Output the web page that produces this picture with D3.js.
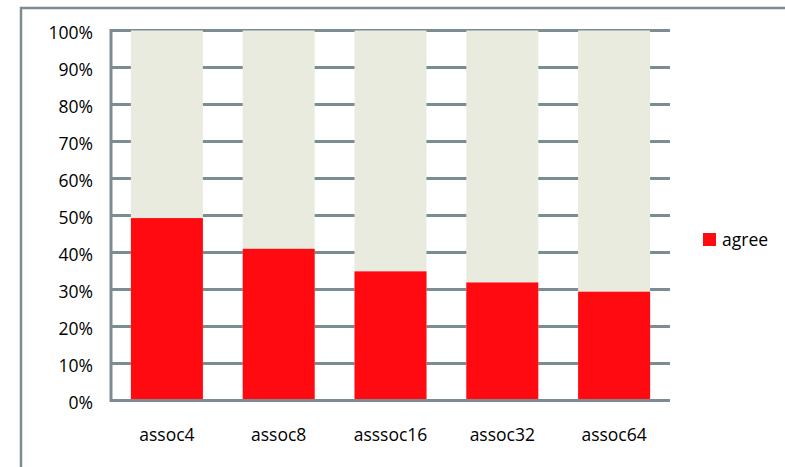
<!DOCTYPE html>
<html>
<head>
<meta charset="utf-8">
<script src="https://cdn.jsdelivr.net/npm/d3@7"></script>
<style>
  body { margin: 0; background: #fff; }
  svg { display: block; font-family: "Open Sans", sans-serif; }
</style>
</head>
<body>
<svg id="chart"></svg>
<script>
// categories and share of "agree" per category (fraction of 1)
const categories = ["assoc4", "assoc8", "asssoc16", "assoc32", "assoc64"];
const agree = [0.493, 0.410, 0.349, 0.319, 0.294];
const yTicks = [0, 0.1, 0.2, 0.3, 0.4, 0.5, 0.6, 0.7, 0.8, 0.9, 1.0];
const seriesName = "agree";

const width = 785, height = 467;
const margin = { left: 111, top: 30.5, right: 115, bottom: 66.5 };
const gridColor = "#7b8c93";
const fontSize = 17.5;

const svg = d3.select("#chart").attr("width", width).attr("height", height);

// outer frame (runs off the right and bottom edge)
svg.append("path")
  .attr("d", `M21,${height + 5}V8H${width + 5}`)
  .attr("fill", "none")
  .attr("stroke", gridColor)
  .attr("stroke-width", 2.5);

const x = d3.scaleBand()
  .domain(categories)
  .range([margin.left, width - margin.right])
  .paddingInner(0.356)
  .paddingOuter(0.178);

const y = d3.scaleLinear()
  .domain([0, 1])
  .range([height - margin.bottom, margin.top]);

// gridlines
svg.append("g")
  .selectAll("line")
  .data(yTicks)
  .join("line")
  .attr("x1", margin.left)
  .attr("x2", width - margin.right)
  .attr("y1", d => y(d))
  .attr("y2", d => y(d))
  .attr("stroke", gridColor)
  .attr("stroke-width", 3);

// 100% background bars
svg.append("g")
  .selectAll("rect")
  .data(categories)
  .join("rect")
  .attr("x", d => x(d))
  .attr("width", x.bandwidth())
  .attr("y", y(1))
  .attr("height", y(0) - y(1))
  .attr("fill", "#e8ebdd");

// agree bars
svg.append("g")
  .selectAll("rect")
  .data(agree)
  .join("rect")
  .attr("x", (d, i) => x(categories[i]))
  .attr("width", x.bandwidth())
  .attr("y", d => y(d))
  .attr("height", d => y(0) - y(d))
  .attr("fill", "#ff0a10");

// axis lines
svg.append("line")
  .attr("x1", margin.left).attr("x2", margin.left)
  .attr("y1", y(1) - 1.5).attr("y2", y(0) + 1.5)
  .attr("stroke", gridColor).attr("stroke-width", 3);
svg.append("line")
  .attr("x1", margin.left).attr("x2", width - margin.right)
  .attr("y1", y(0)).attr("y2", y(0))
  .attr("stroke", gridColor).attr("stroke-width", 3);

// y labels
const yAxis = d3.axisLeft(y)
  .tickValues(yTicks)
  .tickFormat(d3.format(".0%"))
  .tickSize(0)
  .tickPadding(18);
svg.append("g")
  .attr("transform", `translate(${margin.left},2)`)
  .call(yAxis)
  .call(g => g.select(".domain").remove())
  .selectAll("text")
  .attr("font-family", "Open Sans, sans-serif")
  .attr("font-size", fontSize)
  .attr("fill", "#000");

// x labels
const xAxis = d3.axisBottom(x).tickSize(0).tickPadding(28);
svg.append("g")
  .attr("transform", `translate(0,${y(0)})`)
  .call(xAxis)
  .call(g => g.select(".domain").remove())
  .selectAll("text")
  .attr("font-family", "Open Sans, sans-serif")
  .attr("font-size", fontSize)
  .attr("fill", "#000");

// legend
const legend = svg.append("g").attr("transform", "translate(703,233)");
legend.append("rect")
  .attr("width", 13).attr("height", 13)
  .attr("fill", "#ff0a10");
legend.append("text")
  .attr("x", 19).attr("y", 12.5)
  .attr("font-size", fontSize)
  .text(seriesName);
</script>
</body>
</html>
